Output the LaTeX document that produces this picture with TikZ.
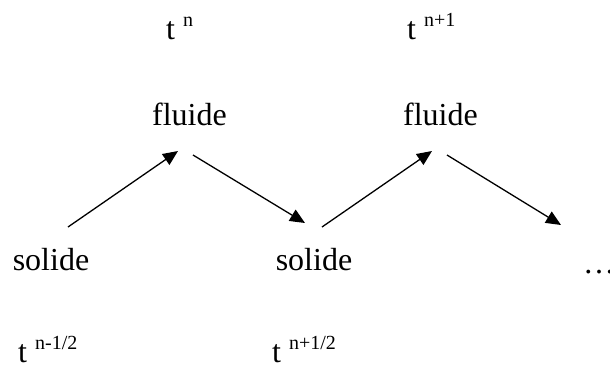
\documentclass[tikz,border=0pt]{standalone}
\usepackage{fontspec}
\setmainfont{Liberation Serif}
\usetikzlibrary{arrows.meta}
\newcommand{\supx}[1]{\hspace{8pt}\raisebox{13pt}{\fontsize{20}{20}\selectfont #1}}
\tikzset{
  lbl/.style={inner sep=0pt, font=\fontsize{32}{32}\selectfont},
  arr/.style={line width=1.3pt, -{Triangle[length=15pt,width=13pt]}}
}
\begin{document}
\begin{tikzpicture}[x=1pt,y=-1pt]
\useasboundingbox (0,0) rectangle (610,365);
\node[lbl, anchor=base west] (tn) at (166,39) {t\supx{n}};
\node[lbl, anchor=base west] (tn1) at (407,39) {t\supx{n+1}};
\node[lbl, anchor=base] (f1) at (189.5,125) {fluide};
\node[lbl, anchor=base] (f2) at (440.5,125) {fluide};
\node[lbl, anchor=base] (s1) at (51,270) {solide};
\node[lbl, anchor=base] (s2) at (314,270) {solide};
\node[lbl, anchor=base west] (dots) at (583,273) {…};
\node[lbl, anchor=base west] (tm) at (18,362) {t\supx{n-1/2}};
\node[lbl, anchor=base west] (tp) at (272,362) {t\supx{n+1/2}};
\coordinate (a1s) at (68,227); \coordinate (a1e) at (178,151);
\coordinate (a2s) at (193,155); \coordinate (a2e) at (305,223);
\coordinate (a3s) at (322,227); \coordinate (a3e) at (432,151);
\coordinate (a4s) at (447,155); \coordinate (a4e) at (561,225);
\draw[arr] (a1s) -- (a1e);
\draw[arr] (a2s) -- (a2e);
\draw[arr] (a3s) -- (a3e);
\draw[arr] (a4s) -- (a4e);
\end{tikzpicture}
\end{document}
